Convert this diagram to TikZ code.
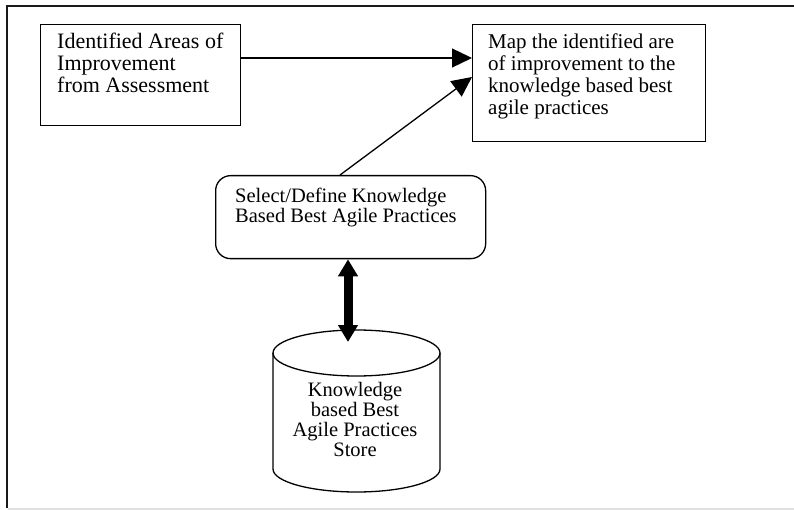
\documentclass[tikz,border=0pt]{standalone}
\usepackage{fontspec}
\setmainfont{Liberation Serif}
\usetikzlibrary{arrows.meta,calc}

\tikzset{
  frameline/.style={line width=1.6pt, draw=black!90},
  box/.style={draw, line width=1.3pt, rectangle, inner sep=0pt, anchor=north west},
  roundbox/.style={draw, line width=1.3pt, rectangle, rounded corners=15pt, inner sep=0pt, anchor=north west},
  txtleft/.style={inner sep=0pt, align=left, anchor=north west},
  txtcentre/.style={inner sep=0pt, align=center, anchor=north},
  arr/.style={line width=1.3pt, -{Triangle[length=20pt,width=19pt]}},
  bigarr/.style={line width=9pt, {Triangle[length=17pt,width=19pt]}-{Triangle[length=17pt,width=19pt]}},
  cyl/.style={line width=1.3pt},
}

\begin{document}
\begin{tikzpicture}[x=1pt,y=-1pt]
  \useasboundingbox (0,0) rectangle (794,510);

  % page frame
  \draw[frameline] (794,6) -- (6.8,6) -- (6.8,508);
  \draw[line width=1.2pt, draw=black!12] (7.5,509) -- (794,509);

  % assessment box
  \node[box, minimum width=200pt, minimum height=101pt] (ident) at (40,24) {};
  \node[txtleft, font=\fontsize{22}{22}\selectfont] (identtxt) at (57,33)
    {Identified Areas of\\Improvement\\from Assessment};

  % mapping box
  \node[box, minimum width=233pt, minimum height=117pt] (map) at (472,24) {};
  \node[txtleft, font=\fontsize{21}{22}\selectfont] (maptxt) at (488,33.5)
    {Map the identified are\\of improvement to the\\knowledge based best\\agile practices};

  % selection box
  \node[roundbox, minimum width=270pt, minimum height=83pt] (sel) at (215,175) {};
  \node[txtleft, font=\fontsize{20.5}{20}\selectfont] (seltxt) at (235,188)
    {Select/Define Knowledge\\Based Best Agile Practices};

  % practices store (cylinder)
  \draw[cyl] (273,353) -- (273,469)
     arc[start angle=180, end angle=360, x radius=83.5pt, y radius=23pt]
     -- (440,353);
  \draw[cyl] (356.5,353) ellipse [x radius=83.5pt, y radius=23pt];
  \node[txtcentre, font=\fontsize{20.5}{20}\selectfont] (store) at (355,382)
    {Knowledge\\based Best\\Agile Practices\\Store};
  \coordinate (storetop) at (348,342);

  % connectors
  \draw[arr] ($(ident.north east)+(0,34)$) -- ($(map.north west)+(0,34)$);
  \draw[arr] ($(sel.north west)+(125,0)$) -- ($(map.north west)+(0,53)$);
  \draw[bigarr] ($(sel.south west)+(133,0)$) -- (storetop);
\end{tikzpicture}
\end{document}
